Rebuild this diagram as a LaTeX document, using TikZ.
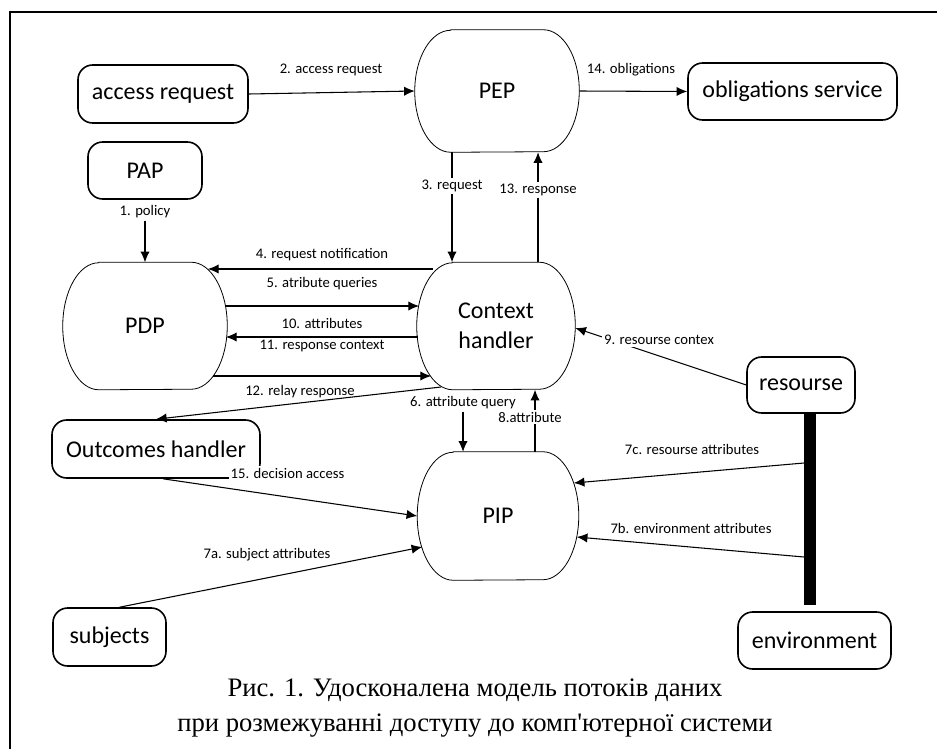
\documentclass[tikz,border=0pt]{standalone}
\usepackage{fontspec}
\setmainfont{Carlito}
\newfontfamily\capfont{Liberation Serif}
\usetikzlibrary{arrows.meta,calc}
\newcommand\ovaloutline[2]{%
  \draw[ovl] ([xshift=27pt]#1.north west) -- ([xshift=-27pt]#1.north east)
    arc[start angle=90, end angle=-90, x radius=27pt, y radius=#2]
    -- ([xshift=27pt]#1.south west)
    arc[start angle=270, end angle=90, x radius=27pt, y radius=#2] -- cycle;}
\begin{document}
\begin{tikzpicture}[x=0.75pt,y=-0.75pt,
  box/.style={draw, line width=1.2pt, rounded corners=11pt, inner sep=0pt, font=\fontsize{18}{20}\selectfont},
  oval/.style={inner sep=0pt, font=\fontsize{18}{22.5}\selectfont, align=center},
  ovl/.style={line width=0.6pt},
  lbl/.style={font=\fontsize{11}{13}\selectfont, inner sep=1.5pt},
  cover/.style={lbl, fill=white},
  ln/.style={line width=0.8pt},
  arr/.style={line width=0.8pt, -{Latex[length=8pt,width=7pt]}}]
\useasboundingbox (0,0) rectangle (937,749);
\draw[line width=1.5pt] (10,749) -- (10,12) -- (937,12);

% boxes
\node[box, minimum width=127.5pt, minimum height=43.5pt] (acc) at (163,94) {access request};
\node[box, minimum width=156.75pt, minimum height=42.75pt] (obl) at (792.5,91.5) {obligations service};
\node[box, minimum width=85.5pt, minimum height=42.75pt] (pap) at (145,170.5) {PAP};
\node[box, minimum width=156pt, minimum height=43.5pt] (oh) at (156,449) {Outcomes handler};
\node[box, minimum width=81pt, minimum height=42pt] (res) at (801,385) {resourse};
\node[box, minimum width=114.75pt, minimum height=42.75pt] (env) at (814.5,640.5) {environment};
\node[box, minimum width=84.75pt, minimum height=43.5pt] (subj) at (109.5,637) {subjects};

% ovals
\node[oval, minimum width=123pt, minimum height=91.5pt] (pep) at (497,91) {PEP};
\node[oval, minimum width=123pt, minimum height=95.25pt] (pdp) at (145,326) {PDP};
\node[oval, minimum width=118.5pt, minimum height=95.25pt] (ch) at (496,326) {Context\\handler};
\node[oval, minimum width=120.75pt, minimum height=96pt] (pip) at (498,516) {PIP};
\ovaloutline{pep}{45.75pt}
\ovaloutline{pdp}{47.625pt}
\ovaloutline{ch}{47.625pt}
\ovaloutline{pip}{48pt}

% thick bar
\draw[line width=8.5pt] (810,413) -- (810,605);
\coordinate (b7c) at (804,463);
\coordinate (b7b) at (804,557);

% labels tied to connectors
\node[lbl] (l1) at (145,212) {1. policy};
\node[lbl] (l3) at (452,186) {3. request};
\node[lbl] (l13) at (538,190) {13. response};
\node[lbl] (l6) at (463,403) {6. attribute query};
\node[cover] (l8) at (530,417) {8.attribute};

% connectors
\draw[arr] (acc.east) -- (pep.west);
\draw[arr] (pep.east) -- (obl.west);
\draw[arr] (l1.south) -- (pdp.north);
\draw[ln] (l3 |- pep.south) -- (l3.north);
\draw[arr] (l3.south) -- (l3 |- ch.north);
\draw[ln] (l13 |- ch.north) -- (l13.south);
\draw[arr] (l13.north) -- (l13 |- pep.south);
\draw[arr] ($(ch)+(-63,-57)$) -- ($(pdp)+(63,-57)$);
\draw[arr] ($(pdp)+(80,-20)$) -- ($(ch)+(-77,-20)$);
\draw[arr] ($(ch)+(-78,11)$) -- ($(pdp)+(81,11)$);
\draw[arr] ($(pdp)+(68,50)$) -- ($(ch)+(-65,50)$);
\draw[arr] ($(ch)+(-55,61)$) -- (oh.north);
\draw[arr] (l6.south) -- (l6.south |- pip.north);
\coordinate (p8) at ($(pip.north)+(37,0)$);
\draw[ln] (p8) -- (p8 |- l8.south);
\draw[arr] (p8 |- l8.north) -- (p8 |- ch.south);
\draw[arr] (res.west) -- ($(ch.east)+(0,2)$);
\draw[arr] (b7c) -- ($(pip.east)+(-5,-33)$);
\draw[arr] (b7b) -- ($(pip.east)+(-2,21)$);
\draw[arr] ($(oh.south)+(7,0)$) -- (pip.west);
\draw[arr] ($(subj.north)+(10,0)$) -- ($(pip.west)+(5,31)$);

% other labels
\node[lbl] at (331,70) {2. access request};
\node[lbl] at (631,70) {14. obligations};
\node[lbl] at (322,255) {4. request notification};
\node[lbl] at (322,284) {5. atribute queries};
\node[lbl] at (322,323) {10. attributes};
\node[lbl] at (322,346) {11. response context};
\node[lbl] at (300,392) {12. relay response};
\node[cover] at (659,340) {9. resourse contex};
\node[lbl] at (692,449) {7c. resourse attributes};
\node[cover, text depth=3pt] at (691,530) {7b. environment attributes};
\node[cover] at (287.5,473) {15. decision access};
\node[lbl] at (267,555) {7a. subject attributes};

% caption
\node[font=\capfont\fontsize{20}{26.25}\selectfont, align=center] (cap) at (475,708)
  {Рис. 1. Удосконалена модель потоків даних\\при розмежуванні доступу до комп\textquotesingle ютерної системи};
\end{tikzpicture}
\end{document}
